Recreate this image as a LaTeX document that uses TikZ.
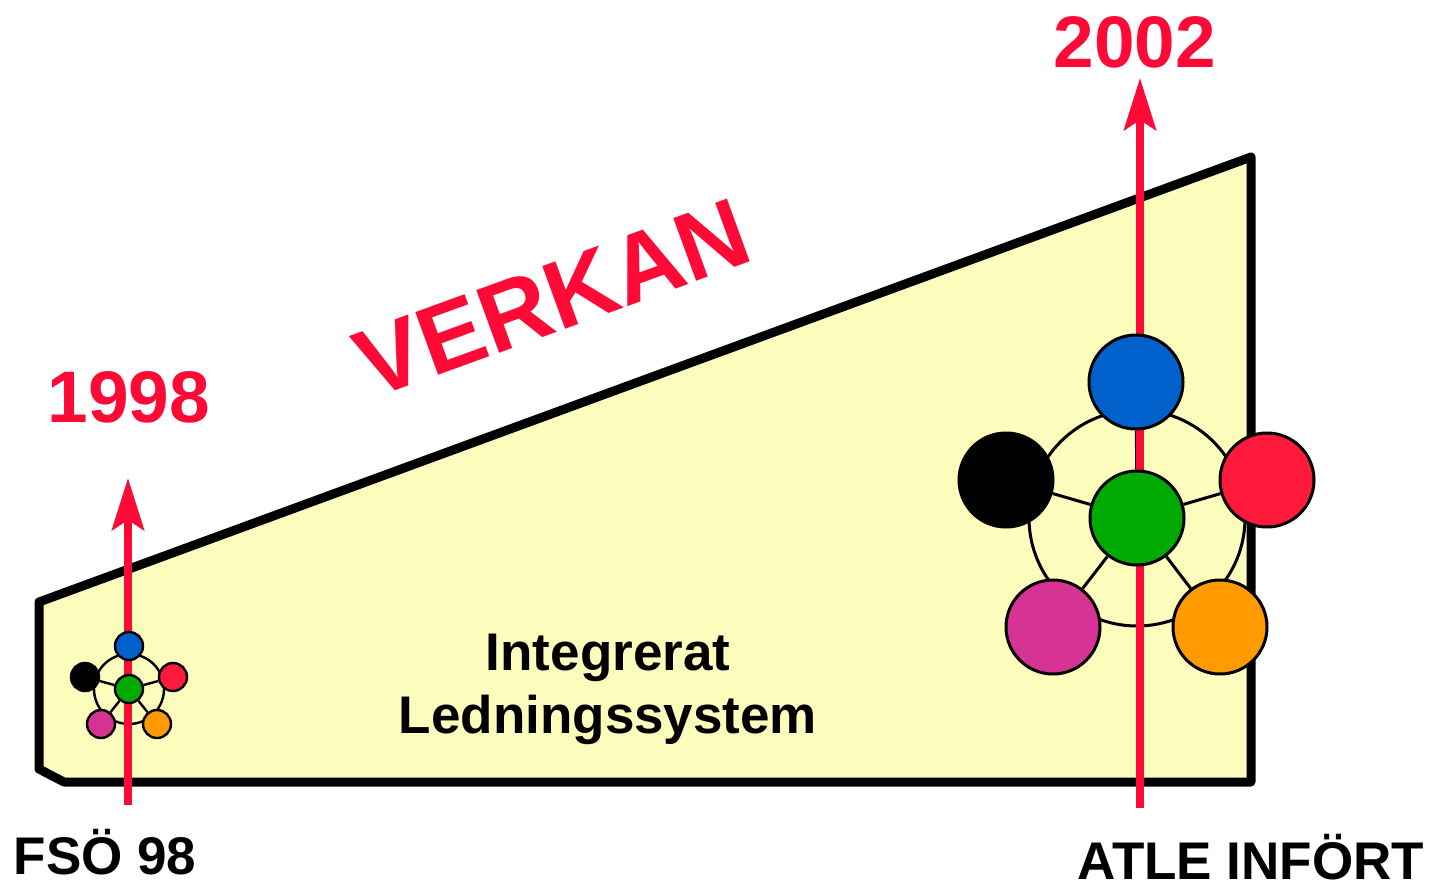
\documentclass[tikz,border=0pt]{standalone}
\usepackage{fontspec}
\setmainfont{Liberation Sans}
\usetikzlibrary{arrows.meta}
\definecolor{fillyellow}{HTML}{FCFCBC}
\definecolor{arrowred}{HTML}{FF0A37}
\definecolor{cblue}{HTML}{0060CC}
\definecolor{cgreen}{HTML}{00AA00}
\definecolor{cred}{HTML}{FF1A3C}
\definecolor{cmag}{HTML}{D63394}
\definecolor{corange}{HTML}{FF9A00}
\pgfdeclarelayer{bg}
\pgfdeclarelayer{links}
\pgfdeclarelayer{arrows}
\pgfsetlayers{bg,links,arrows,main}
\tikzset{
  redarrow/.style={draw=arrowred, line width=4pt, -{Stealth[length=26pt, width=16pt, inset=5pt]}},
  bigtext/.style={font=\bfseries\fontsize{26.5pt}{30pt}\selectfont, anchor=base, inner sep=0pt},
  yeartext/.style={font=\bfseries\fontsize{36.5pt}{40pt}\selectfont, text=arrowred, anchor=base, inner sep=0pt},
  bigball/.style={circle, draw=black, line width=1.5pt, minimum size=47pt, inner sep=0pt},
  smallball/.style={circle, draw=black, line width=1.2pt, minimum size=14pt, inner sep=0pt},
  linkline/.style={draw=black, line width=1.5pt},
  smalllink/.style={draw=black, line width=1.2pt},
}
\begin{document}
\begin{tikzpicture}[x=0.5pt, y=-0.5pt]
\useasboundingbox (0,0) rectangle (1429,883);
% main shape
\begin{pgfonlayer}{bg}
\draw[line width=4.5pt, fill=fillyellow, line join=round]
  (39,602) -- (1251,157) -- (1251,782) -- (64,782) -- (39,769) -- cycle;
\end{pgfonlayer}

% big cluster
\node[bigball, fill=cgreen] (g1) at (1137,518) {};
\node[bigball, fill=cblue]   (b1) at ([shift={(-1,-136)}]g1.center) {};
\node[bigball, fill=black]   (k1) at ([shift={(-131,-38)}]g1.center) {};
\node[bigball, fill=cmag]    (m1) at ([shift={(-84,109)}]g1.center) {};
\node[bigball, fill=corange] (o1) at ([shift={(83,109)}]g1.center) {};
\node[bigball, fill=cred]    (r1) at ([shift={(130,-38)}]g1.center) {};
\begin{pgfonlayer}{links}
\draw[linkline] (g1.center) circle[radius=108];
\foreach \n in {b1,k1,m1,o1,r1}{\draw[linkline] (g1) -- (\n);}
\end{pgfonlayer}

% small cluster
\node[smallball, fill=cgreen] (g2) at (129,689) {};
\node[smallball, fill=cblue]   (b2) at ([shift={(0,-43)}]g2.center) {};
\node[smallball, fill=black]   (k2) at ([shift={(-44,-12)}]g2.center) {};
\node[smallball, fill=cmag]    (m2) at ([shift={(-28,35)}]g2.center) {};
\node[smallball, fill=corange] (o2) at ([shift={(28,35)}]g2.center) {};
\node[smallball, fill=cred]    (r2) at ([shift={(44,-12)}]g2.center) {};
\begin{pgfonlayer}{links}
\draw[smalllink] (g2.center) circle[radius=35];
\foreach \n in {b2,k2,m2,o2,r2}{\draw[smalllink] (g2) -- (\n);}
\end{pgfonlayer}

% arrows
\coordinate (a1s) at (128,805);
\coordinate (a1e) at (128,478);
\coordinate (a2s) at (1140,808);
\coordinate (a2e) at (1140,78);
\begin{pgfonlayer}{arrows}
\draw[redarrow] (a1s) -- (a1e);
\draw[redarrow] (a2s) -- (a2e);
\end{pgfonlayer}

% texts
\node[yeartext] (y1) at (129,422) {1998};
\node[yeartext] (y2) at (1135,68) {2002};
\node[font=\bfseries\fontsize{48.5pt}{52pt}\selectfont, text=arrowred, rotate=20, inner sep=0pt] (verkan) at (553,298) {VERKAN};
\node[bigtext] (t1) at (608,670) {Integrerat};
\node[bigtext] (t2) at (608,733) {Ledningssystem};
\node[bigtext] (l1) at (105,874) {FSÖ 98};
\node[bigtext] (l2) at (1251,879) {ATLE INFÖRT};
\end{tikzpicture}
\end{document}
